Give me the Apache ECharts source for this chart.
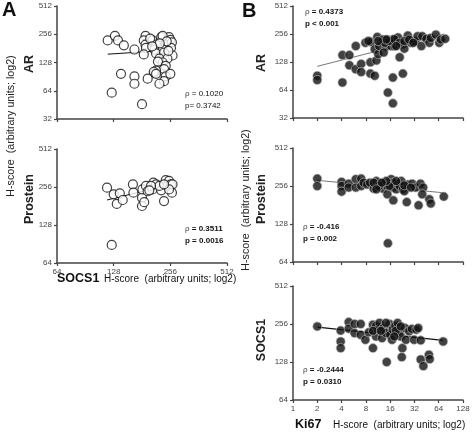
<!DOCTYPE html>
<html><head><meta charset="utf-8">
<script src="https://cdn.jsdelivr.net/npm/echarts@6/dist/echarts.min.js"></script>
<style>html,body{margin:0;padding:0;background:#fff}#c{width:472px;height:433px}</style>
</head><body><div id="c"></div>
<script>
// ---- Data (H-scores, log2 axes) ----
// Panel A: x = SOCS1 H-score
const aAR = [[119,220],[130,246],[135,220],[145,195],[165,176],[189,246],[185,220],[206,220],[229,238],[252,238],[233,246],[256,223],[189,198],[215,198],[242,198],[261,210],[190,183],[211,176],[233,176],[258,183],[185,156],[215,160],[237,163],[263,152],[224,141],[247,141],[233,128],[220,131],[242,118],[237,109],[215,105],[211,99],[209,102],[215,97],[194,86],[242,91],[256,97],[237,81],[224,76],[140,97],[165,91],[165,76],[125,61],[181,46],[200,230],[245,215],[225,205],[250,170],[205,190]];
const aARFit = [[119,157],[262,174]];
const aProstein = [[118,253],[128,224],[138,228],[133,188],[143,202],[162,269],[163,231],[181,210],[181,181],[186,194],[182,245],[190,261],[194,237],[208,277],[206,245],[215,269],[229,241],[224,261],[237,198],[242,290],[252,286],[247,261],[258,269],[261,231],[263,269],[252,245],[237,269],[202,261],[198,241],[125,89]];
const aProsteinFit = [[118,202],[267,272]];
// Panel B: x = Ki67 H-score
const bAR = [[2,91],[2,82],[4.1,152],[4.1,77],[5,152],[5,118],[6,190],[6,107],[7,122],[7,100],[7.9,206],[9.1,96],[9.1,127],[10.3,91],[9.3,210],[10.3,176],[10.8,133],[11.4,156],[11.1,238],[12.4,215],[11.7,190],[14.3,187],[13.3,162],[13,223],[14.8,223],[16.5,190],[17.2,223],[18.1,190],[19,215],[20,235],[21,144],[23,198],[23,96],[15,60],[17.3,46],[17.3,87],[24,178],[26.5,246],[29,206],[33,215],[35,242],[39,190],[40,242],[45,227],[49,206],[51,232],[59,252],[65,206],[68,223],[77,227],[13.8,206],[15.7,215],[18,225],[14.3,223],[21,206],[24,215],[27.5,223],[31,206],[19,190],[11.4,215],[8.6,215]];
const bARFit = [[2,115],[75,256]];
const bProstein = [[2,293],[2,256],[4,276],[4,256],[4,231],[4.9,267],[4.9,249],[6,290],[6,249],[7,293],[7,256],[7.5,272],[8.3,263],[9,272],[10,244],[10.8,280],[11.4,256],[13,244],[13.5,272],[14.3,259],[14.8,220],[16.5,290],[17.2,272],[17.2,249],[19,241],[20,263],[21,256],[23,241],[24,233],[26.5,263],[30,267],[33,249],[38,267],[41,249],[40,220],[17.5,197],[25.7,191],[36,180],[49,201],[51,186],[74,211],[15,90],[11.7,256],[15.7,256],[22,280],[14.3,280],[10,272],[12.6,272],[10.8,241],[19,280],[24,259],[29,249]];
const bProsteinFit = [[2,284],[74,226]];
const bSOCS1 = [[2,245],[3.9,227],[3.9,186],[3.9,165],[4.9,265],[4.9,235],[5.8,256],[5.8,217],[6.9,256],[6.9,210],[7.9,192],[8.7,220],[9.8,253],[9.8,165],[10.7,248],[10.7,204],[11.3,231],[11.8,261],[12.7,198],[13.2,238],[14.2,217],[14.5,128],[15.7,256],[16,210],[16.9,192],[17.2,231],[18.5,248],[19.8,261],[20.7,224],[21.7,204],[22.3,140],[22.7,165],[24.4,238],[25.1,192],[27.5,224],[29.7,234],[31.7,192],[33.8,231],[35.7,238],[38.3,190],[38.3,134],[41.3,119],[48.4,146],[49.5,135],[72.6,186],[9.8,226],[12.3,226],[18.8,226],[14.2,261],[21.7,245],[18,204]];
const bSOCS1Fit = [[2,242],[72.6,190]];

const stats = {
  aAR: ['0.1020', '0.3742'],
  aProstein: ['0.3511', '0.0016'],
  bAR: ['0.4373', '< 0.001'],
  bProstein: ['-0.416', '0.002'],
  bSOCS1: ['-0.2444', '0.0310']
};

// ---- Styling / layout ----
const FF = 'Liberation Sans, Arial, Helvetica, sans-serif';
const AX = '#444';
const grids = [
  {left: 57, top: 6, width: 170, height: 113},
  {left: 57, top: 149, width: 170, height: 114},
  {left: 293, top: 6, width: 170, height: 112},
  {left: 293, top: 148, width: 170, height: 114},
  {left: 293, top: 286, width: 170, height: 114}
];
function fmt(v){ return String(Math.round(v)); }
function axis(gi, min, max, showLabel){
  return {
    type: 'log', logBase: 2, gridIndex: gi, min: min, max: max,
    splitLine: {show: false},
    axisLine: {show: true, onZero: false, lineStyle: {color: AX, width: 1.5}},
    axisTick: {show: true, length: 3, lineStyle: {color: AX, width: 1.2}},
    axisLabel: {show: showLabel, fontSize: 8, color: AX, margin: 5, fontFamily: FF, formatter: fmt}
  };
}
const xAxes = [
  axis(0, 64, 512, false), axis(1, 64, 512, true),
  axis(2, 1, 128, false), axis(3, 1, 128, false), axis(4, 1, 128, true)
];
const yAxes = [
  axis(0, 32, 512, true), axis(1, 64, 512, true),
  axis(2, 32, 512, true), axis(3, 64, 512, true), axis(4, 64, 512, true)
];
const openSym = {color: '#fff', borderColor: '#111', borderWidth: 1.2};
const fillSym = {color: '#111', borderColor: '#bbb', borderWidth: 0.8};
function pts(i, data, st){
  return {type: 'scatter', xAxisIndex: i, yAxisIndex: i, data: data, symbolSize: 9, itemStyle: st, z: 3, silent: true};
}
function fit(i, data, color, w){
  return {type: 'line', xAxisIndex: i, yAxisIndex: i, data: data, symbol: 'none', lineStyle: {color: color, width: w}, z: 2, silent: true};
}
const series = [
  fit(0, aARFit, '#111', 1), pts(0, aAR, openSym),
  fit(1, aProsteinFit, '#111', 1), pts(1, aProstein, openSym),
  fit(2, bARFit, '#777', 1), pts(2, bAR, fillSym),
  fit(3, bProsteinFit, '#777', 1), pts(3, bProstein, fillSym),
  fit(4, bSOCS1Fit, '#111', 1.3), pts(4, bSOCS1, fillSym)
];

function txt(x, y, text, size, weight, extra){
  return Object.assign({type: 'text', x: x, y: y, silent: true,
    style: {text: text, font: (weight||'normal') + ' ' + size + 'px ' + FF, fill: '#111', align: 'left', verticalAlign: 'middle'}}, extra||{});
}
function vtxt(x, y, text, size, weight){
  return {type: 'text', x: x, y: y, rotation: Math.PI/2, silent: true,
    style: {text: text, font: (weight||'normal') + ' ' + size + 'px ' + FF, fill: '#222', align: 'center', verticalAlign: 'middle'}};
}
function statText(x, y, s, bold, pSign){
  const w = bold ? 'bold' : 'normal';
  return [
    {type: 'text', x: x, y: y, silent: true, style: {
      rich: {r: {font: 'normal 8px ' + FF, fill: '#444'}, b: {font: w + ' 8px ' + FF, fill: '#111'}},
      text: '{r|ρ}{b| = ' + s[0] + '}', verticalAlign: 'middle'}},
    {type: 'text', x: x, y: y + 12, silent: true, style: {
      text: (pSign) + s[1], font: w + ' 8px ' + FF, fill: '#111', verticalAlign: 'middle'}}
  ];
}
const HS = 'H-score  (arbitrary units; log2)';
const graphic = [
  txt(2, 10, 'A', 20, 'bold'),
  txt(242, 11, 'B', 20, 'bold'),
  vtxt(11, 126, HS, 10.7),
  vtxt(246, 200, HS, 10.7),
  vtxt(30, 64, 'AR', 12.5, 'bold'),
  vtxt(30, 199, 'Prostein', 12.5, 'bold'),
  vtxt(262, 63, 'AR', 12.5, 'bold'),
  vtxt(262, 199, 'Prostein', 12.5, 'bold'),
  vtxt(262, 340, 'SOCS1', 12.5, 'bold'),
  txt(57, 279, 'SOCS1', 12.5, 'bold'),
  txt(104, 279, HS, 10),
  txt(295, 425, 'Ki67', 12.5, 'bold'),
  txt(333, 425, HS, 10)
].concat(
  statText(185, 94, stats.aAR, false, 'p= '),
  statText(185, 229, stats.aProstein, true, 'p = '),
  statText(305, 12, stats.bAR, true, 'p '),
  statText(303, 227, stats.bProstein, true, 'p = '),
  statText(303, 370, stats.bSOCS1, true, 'p = ')
);

const chart = echarts.init(document.getElementById('c'), null, {renderer: 'canvas'});
chart.setOption({
  animation: false,
  backgroundColor: '#fff',
  grid: grids.map(g => Object.assign({containLabel: false, outerBoundsMode: 'none'}, g)),
  xAxis: xAxes,
  yAxis: yAxes,
  series: series,
  graphic: graphic
});
</script></body></html>
